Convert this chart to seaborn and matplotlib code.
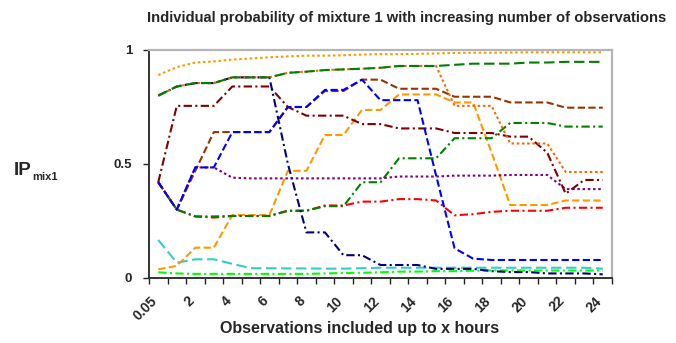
import matplotlib
matplotlib.use('Agg')
import matplotlib.pyplot as plt
import matplotlib.transforms as mtransforms
import seaborn as sns
import pandas as pd
import numpy as np

sns.set_style('white')
plt.rcParams['font.family'] = ['Liberation Sans', 'DejaVu Sans']

# categories on the x axis (hours)
hours = [0.05, 1, 2, 3, 4, 5, 6, 7, 8, 9, 10, 11, 12, 13, 14, 15, 16, 17, 18, 19, 20, 21, 22, 23, 24]
tick_labels = ['0.05', '2', '4', '6', '8', '10', '12', '14', '16', '18', '20', '22', '24']

# series values
lime = [0.025, 0.02, 0.018, 0.018, 0.018, 0.018, 0.018, 0.018, 0.018, 0.02, 0.022, 0.023, 0.025,
        0.028, 0.028, 0.03, 0.03, 0.032, 0.033, 0.033, 0.033, 0.033, 0.033, 0.033, 0.033]
cyan = [0.167, 0.067, 0.082, 0.082, 0.062, 0.043, 0.043, 0.042, 0.042, 0.041, 0.041, 0.043, 0.045,
        0.045, 0.045, 0.045, 0.045, 0.045, 0.045, 0.045, 0.045, 0.045, 0.045, 0.045, 0.041]
orange_dash = [0.038, 0.053, 0.133, 0.133, 0.276, 0.276, 0.276, 0.47, 0.47, 0.627, 0.627, 0.737, 0.737,
               0.805, 0.805, 0.805, 0.77, 0.77, 0.55, 0.32, 0.32, 0.32, 0.34, 0.34, 0.34]
red = [0.42, 0.30, 0.27, 0.265, 0.272, 0.272, 0.272, 0.295, 0.295, 0.318, 0.318, 0.335, 0.335,
       0.346, 0.346, 0.34, 0.275, 0.28, 0.29, 0.295, 0.295, 0.295, 0.308, 0.308, 0.308]
green_dd = [0.42, 0.30, 0.27, 0.27, 0.272, 0.272, 0.272, 0.295, 0.295, 0.315, 0.315, 0.42, 0.42,
            0.525, 0.525, 0.525, 0.613, 0.613, 0.613, 0.68, 0.68, 0.68, 0.664, 0.664, 0.664]
purple = [0.42, 0.30, 0.485, 0.485, 0.44, 0.437, 0.437, 0.437, 0.437, 0.437, 0.437, 0.437, 0.437,
          0.445, 0.445, 0.445, 0.449, 0.449, 0.449, 0.452, 0.452, 0.452, 0.39, 0.39, 0.39]
maroon = [0.42, 0.755, 0.755, 0.755, 0.84, 0.84, 0.84, 0.75, 0.712, 0.712, 0.712, 0.675, 0.675,
          0.656, 0.656, 0.656, 0.636, 0.636, 0.636, 0.62, 0.62, 0.55, 0.37, 0.43, 0.43]
brown = [0.42, 0.30, 0.47, 0.64, 0.64, 0.64, 0.64, 0.75, 0.75, 0.82, 0.82, 0.87, 0.87,
         0.83, 0.83, 0.83, 0.795, 0.795, 0.795, 0.77, 0.77, 0.77, 0.747, 0.747, 0.747]
blue = [0.42, 0.30, 0.485, 0.485, 0.64, 0.64, 0.64, 0.75, 0.75, 0.825, 0.825, 0.87, 0.78,
        0.78, 0.78, 0.45, 0.13, 0.085, 0.079, 0.079, 0.079, 0.079, 0.079, 0.079, 0.079]
navy = [0.80, 0.84, 0.855, 0.855, 0.88, 0.88, 0.88, 0.50, 0.20, 0.20, 0.10, 0.10, 0.057,
        0.057, 0.057, 0.04, 0.04, 0.04, 0.03, 0.026, 0.026, 0.02, 0.02, 0.02, 0.016]
redorange_dot = [0.80, 0.84, 0.855, 0.855, 0.88, 0.88, 0.88, 0.90, 0.905, 0.912, 0.915, 0.918, 0.922,
                 0.93, 0.93, 0.93, 0.755, 0.755, 0.755, 0.59, 0.59, 0.59, 0.465, 0.465, 0.465]
green_dash = [0.80, 0.84, 0.855, 0.855, 0.88, 0.88, 0.88, 0.90, 0.905, 0.912, 0.915, 0.918, 0.922,
              0.93, 0.93, 0.93, 0.935, 0.94, 0.94, 0.94, 0.945, 0.945, 0.948, 0.948, 0.948]
orange_dot = [0.89, 0.925, 0.945, 0.95, 0.958, 0.963, 0.968, 0.972, 0.975, 0.975, 0.977, 0.98, 0.982,
              0.982, 0.983, 0.985, 0.987, 0.988, 0.988, 0.989, 0.99, 0.99, 0.99, 0.99, 0.99]

series = {
    'lime': lime, 'cyan': cyan, 'orange_dash': orange_dash, 'red': red, 'green_dd': green_dd,
    'purple': purple, 'maroon': maroon, 'brown': brown, 'blue': blue, 'navy': navy,
    'redorange_dot': redorange_dot, 'green_dash': green_dash, 'orange_dot': orange_dot,
}
colors = {
    'lime': '#00FF00', 'cyan': '#33CCCC', 'orange_dash': '#FF9900', 'red': '#FF0000',
    'green_dd': '#008000', 'purple': '#800080', 'maroon': '#800000', 'brown': '#993300',
    'blue': '#0000FF', 'navy': '#000080', 'redorange_dot': '#FF6600', 'green_dash': '#008000',
    'orange_dot': '#FF9900',
}
dot = (1.2, 1.3)
dash = (3.5, 1.6)
longdash = (5, 2.2)
dashdot = (4, 1.6, 1, 1.6)
dashes = {
    'lime': dashdot, 'cyan': longdash, 'orange_dash': dash, 'red': dashdot, 'green_dd': dashdot,
    'purple': dot, 'maroon': dashdot, 'brown': dash, 'blue': dash, 'navy': dashdot,
    'redorange_dot': dot, 'green_dash': longdash, 'orange_dot': dot,
}

rows = []
for name, vals in series.items():
    for i, v in enumerate(vals):
        rows.append({'series': name, 'pos': i, 'hours': hours[i], 'value': v})
df = pd.DataFrame(rows)

fig = plt.figure(figsize=(6.76, 3.43), dpi=100)
ax = fig.add_axes([149 / 676, 1 - 278 / 343, (612 - 149) / 676, (278 - 50) / 343])

order = list(series.keys())
sns.lineplot(data=df, x='pos', y='value', hue='series', style='series', hue_order=order,
             style_order=order, palette=colors, dashes=dashes, linewidth=1.5,
             legend=False, ax=ax, sort=False)

ax.set_xlim(-0.5, 24.5)
ax.set_ylim(0, 1)
ax.set_xlabel('')
ax.set_ylabel('')

ax.set_xticks(range(0, 25, 2))
ax.set_xticklabels(tick_labels, rotation=45, ha='right', va='center',
                   rotation_mode='anchor', fontsize=10, fontweight='bold')
ax.set_xticks(np.arange(-0.5, 25, 1), minor=True)
ax.tick_params(axis='x', which='major', length=0, pad=15)
ax.tick_params(axis='x', which='minor', length=4, width=1, color='#222222', direction='out')
ax.tick_params(axis='x', which='both', bottom=True)
shift = mtransforms.ScaledTranslation(-3 / 100, 0, fig.dpi_scale_trans)
for lab in ax.get_xticklabels():
    lab.set_transform(lab.get_transform() + shift)

ax.set_yticks([0, 0.5, 1])
ax.set_yticklabels(['0', '0.5', '1'], fontsize=9.5, fontweight='bold')
ax.tick_params(axis='y', length=4, width=1, color='#222222', direction='out', pad=8, left=True)

for s in ['left', 'bottom']:
    ax.spines[s].set_color('#333333')
    ax.spines[s].set_linewidth(1.4)
for s in ['top', 'right']:
    ax.spines[s].set_color('#b5b5b5')
    ax.spines[s].set_linewidth(1.6)
ax.grid(False)

fig.text(407 / 676, 1 - 18 / 343, 'Individual probability of mixture 1 with increasing number of observations',
         ha='center', va='center', fontsize=10.6, fontweight='bold')
fig.text(360 / 676, 1 - 329 / 343, 'Observations included up to x hours',
         ha='center', va='center', fontsize=11.5, fontweight='bold')
fig.text(14 / 676, 1 - 175 / 343, 'IP', ha='left', va='baseline', fontsize=13.5, fontweight='bold')
fig.text(32.5 / 676, 1 - 180 / 343, 'mix1', ha='left', va='baseline', fontsize=8, fontweight='bold')

fig.savefig('out.png', dpi=100)
